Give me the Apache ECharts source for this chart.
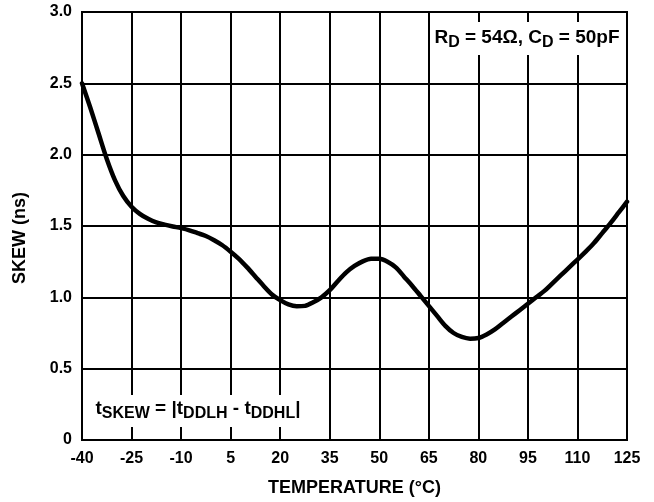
<!DOCTYPE html>
<html>
<head>
<meta charset="utf-8">
<script src="https://cdn.jsdelivr.net/npm/echarts@6/dist/echarts.min.js"></script>
<style>
html,body{margin:0;padding:0;background:#fff;}
#chart{width:654px;height:502px;}
</style>
</head>
<body>
<div id="chart"></div>
<script>
// Temperature (°C)
var temperatures = [-40, -37.5, -35, -32.5, -30, -27.5, -25, -22.5, -20, -17.5, -15, -12.5, -10, -7.5, -5, -2.5, 0, 2.5, 5, 7.5, 10, 12.5, 15, 17.5, 20, 22.5, 25, 27.5, 30, 32.5, 35, 37.5, 40, 42.5, 45, 47.5, 50, 52.5, 55, 57.5, 60, 62.5, 65, 67.5, 70, 72.5, 75, 77.5, 80, 82.5, 85, 87.5, 90, 92.5, 95, 97.5, 100, 102.5, 105, 107.5, 110, 112.5, 115, 117.5, 120, 122.5, 125];
// Skew (ns)
var skewValues = [2.50, 2.33, 2.15, 1.97, 1.82, 1.71, 1.635, 1.585, 1.55, 1.525, 1.51, 1.497, 1.485, 1.47, 1.45, 1.43, 1.40, 1.365, 1.32, 1.27, 1.21, 1.145, 1.08, 1.02, 0.98, 0.95, 0.937, 0.94, 0.965, 1.0, 1.05, 1.115, 1.175, 1.22, 1.252, 1.27, 1.27, 1.25, 1.21, 1.145, 1.08, 1.01, 0.94, 0.87, 0.80, 0.75, 0.722, 0.71, 0.715, 0.74, 0.775, 0.82, 0.865, 0.91, 0.955, 1.0, 1.045, 1.10, 1.155, 1.21, 1.265, 1.32, 1.38, 1.45, 1.52, 1.595, 1.67];
var xTickLabels = [-40, -25, -10, 5, 20, 35, 50, 65, 80, 95, 110, 125];
var yTickLabels = ['0', '0.5', '1.0', '1.5', '2.0', '2.5', '3.0'];

var FONT = '"Liberation Sans", Arial, Helvetica, sans-serif';
// x axis runs from 0 at the first tick (-40 °C); labels add the offset back
var X0 = xTickLabels[0];
var XSTEP = xTickLabels[1] - xTickLabels[0];
var seriesData = temperatures.map(function (t, i) { return [t - X0, skewValues[i]]; });

var chart = echarts.init(document.getElementById('chart'), null, {renderer: 'canvas'});
var option = {
  backgroundColor: '#fff',
  animation: false,
  grid: {left: 82, right: 27, top: 12, bottom: 62, show: true, borderColor: '#000', borderWidth: 2},
  xAxis: {
    type: 'value',
    min: 0,
    max: xTickLabels[xTickLabels.length - 1] - X0,
    interval: XSTEP,
    name: 'TEMPERATURE (°C)',
    nameLocation: 'middle',
    nameGap: 39,
    nameTextStyle: {fontFamily: FONT, fontWeight: 'bold', fontSize: 18, color: '#000'},
    axisLine: {show: true, lineStyle: {color: '#000', width: 2}},
    axisTick: {show: false},
    axisLabel: {
      margin: 11, fontFamily: FONT, fontWeight: 'bold', fontSize: 16, color: '#000',
      formatter: function (v) {
        var idx = Math.round(v / XSTEP);
        return xTickLabels[idx] !== undefined ? String(xTickLabels[idx]) : '';
      }
    },
    splitLine: {show: true, lineStyle: {color: '#000', width: 2}}
  },
  yAxis: {
    type: 'value',
    min: 0,
    max: 3,
    interval: 0.5,
    name: 'SKEW (ns)',
    nameLocation: 'middle',
    nameGap: 53,
    nameTextStyle: {fontFamily: FONT, fontWeight: 'bold', fontSize: 18, color: '#000', padding: [0, 24, 0, 0]},
    axisLine: {show: true, lineStyle: {color: '#000', width: 2}},
    axisTick: {show: false},
    axisLabel: {
      margin: 10, fontFamily: FONT, fontWeight: 'bold', fontSize: 16, color: '#000',
      formatter: function (v) {
        var idx = Math.round(v / 0.5);
        return yTickLabels[idx] !== undefined ? yTickLabels[idx] : '';
      }
    },
    splitLine: {show: true, lineStyle: {color: '#000', width: 2}}
  },
  series: [{
    type: 'line',
    data: seriesData,
    smooth: 0.3,
    showSymbol: false,
    lineStyle: {color: '#000', width: 4.5, join: 'round', cap: 'round'},
    z: 3
  }],
  graphic: [
    {type: 'rect', shape: {x: 430, y: 22, width: 195, height: 33}, style: {fill: '#fff'}, z: 10},
    {type: 'text', x: 527, y: 38, z: 11,
      style: {
        text: '{m|R}{s|D}{m| = 54Ω, C}{s|D}{m| = 50pF}',
        align: 'center', verticalAlign: 'middle',
        rich: {
          m: {fontFamily: FONT, fontWeight: 'bold', fontSize: 19, fill: '#000', verticalAlign: 'middle'},
          s: {fontFamily: FONT, fontWeight: 'bold', fontSize: 16, fill: '#000', verticalAlign: 'middle', padding: [10, 0, 0, 0]}
        }
      }
    },
    {type: 'rect', shape: {x: 84, y: 395, width: 236, height: 32}, style: {fill: '#fff'}, z: 10},
    {type: 'text', x: 198, y: 409, z: 11,
      style: {
        text: '{m|t}{s|SKEW}{m| = |t}{s|DDLH}{m| - t}{s|DDHL}{m||}',
        align: 'center', verticalAlign: 'middle',
        rich: {
          m: {fontFamily: FONT, fontWeight: 'bold', fontSize: 19, fill: '#000', verticalAlign: 'middle'},
          s: {fontFamily: FONT, fontWeight: 'bold', fontSize: 16, fill: '#000', verticalAlign: 'middle', padding: [10, 0, 0, 0]}
        }
      }
    }
  ]
};
chart.setOption(option);
</script>
</body>
</html>
